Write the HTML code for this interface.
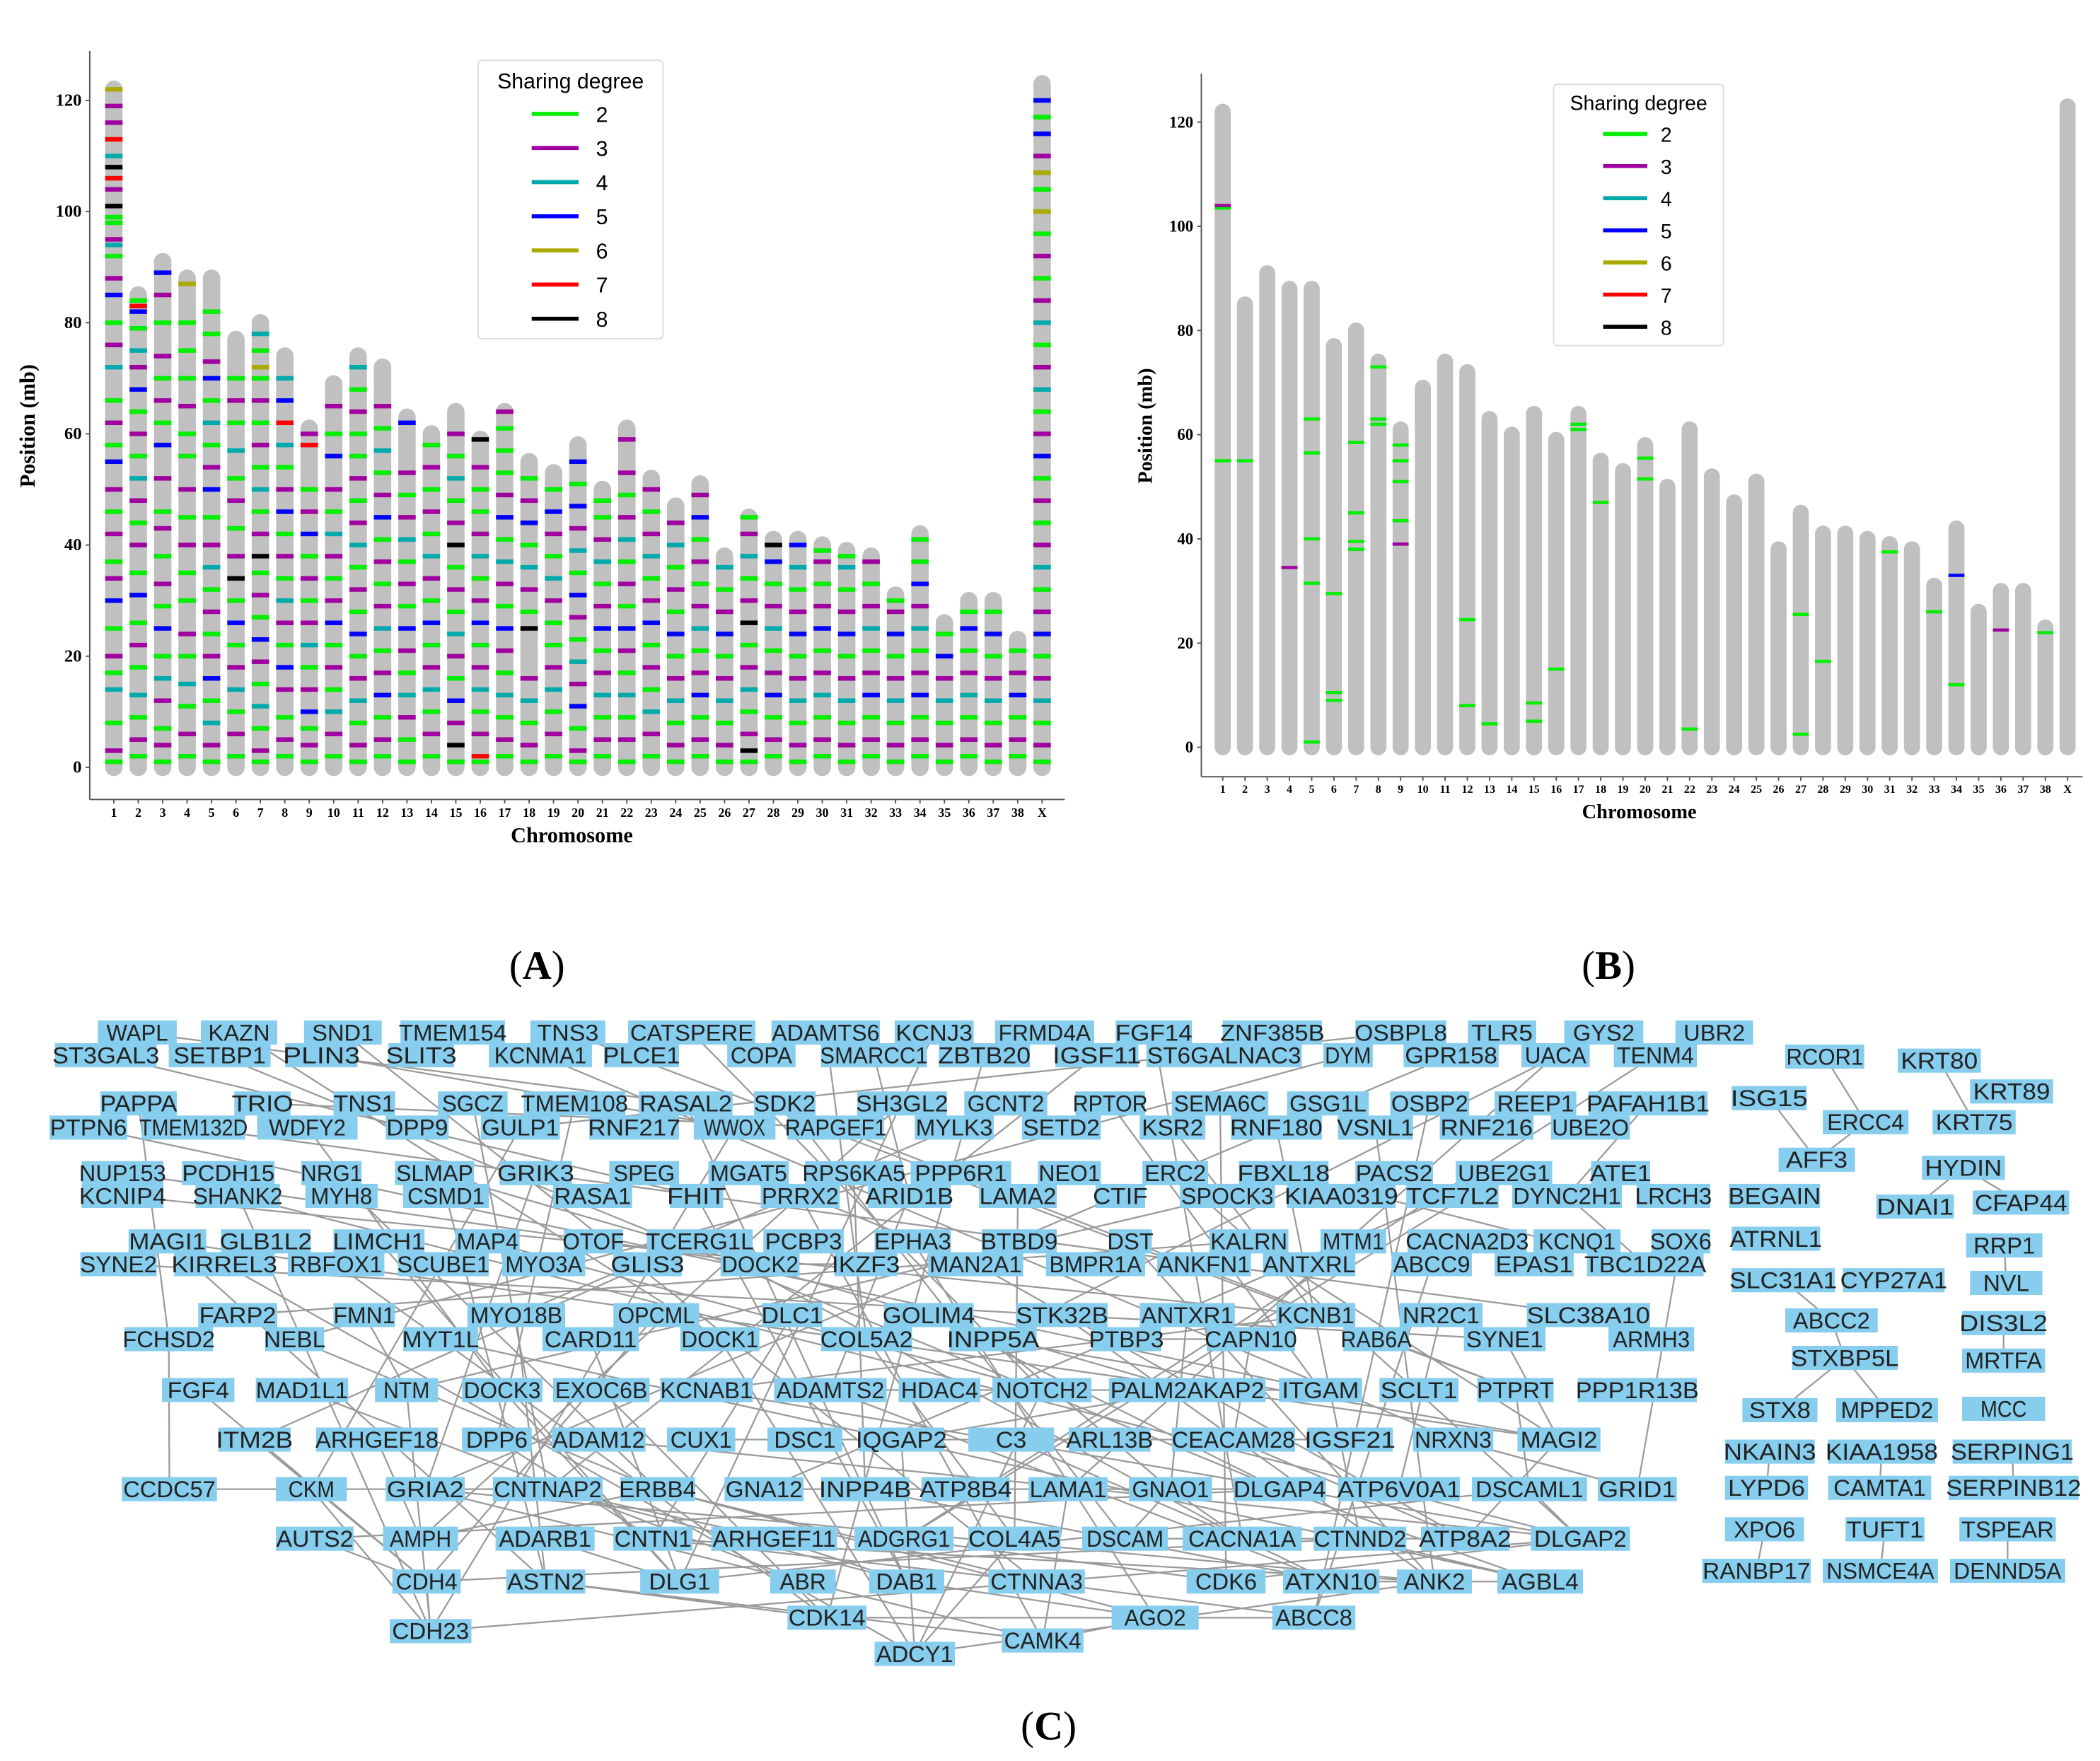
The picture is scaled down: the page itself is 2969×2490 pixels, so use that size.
<!DOCTYPE html>
<html><head><meta charset="utf-8"><style>
html,body{margin:0;padding:0;background:#fff}
svg{display:block}
.tk{font-family:"Liberation Serif",serif;font-weight:bold}
.nd{font-family:"Liberation Sans",sans-serif;font-size:17px;fill:#222}
</style></head><body>
<svg id="fig" width="2969" height="2490" viewBox="0 0 1568 1315" preserveAspectRatio="none" xmlns="http://www.w3.org/2000/svg">
<g id="gA"></g>
<g id="gB"></g>
<g id="gC"></g>
<text x="401" y="731" text-anchor="middle" font-family="Liberation Serif,serif" font-size="30">(<tspan font-weight="bold">A</tspan>)</text>
<text x="1201" y="731" text-anchor="middle" font-family="Liberation Serif,serif" font-size="30">(<tspan font-weight="bold">B</tspan>)</text>
<text x="783" y="1299" text-anchor="middle" font-family="Liberation Serif,serif" font-size="30">(<tspan font-weight="bold">C</tspan>)</text>
</svg>
<script>
const NS="http://www.w3.org/2000/svg";
const chromNames=["1","2","3","4","5","6","7","8","9","10","11","12","13","14","15","16","17","18","19","20","21","22","23","24","25","26","27","28","29","30","31","32","33","34","35","36","37","38","X"];
const chromLengths=[122,85,91,88,88,77,80,74,61,69,74,72,63,60,64,59,64,55,53,58,50,61,52,47,51,38,45,41,41,40,39,38,31,42,26,30,30,23,123];
const yTicks=[0,20,40,60,80,100,120];
const degrees=["2","3","4","5","6","7","8"];
const degreeColors=["#00ee00","#a000a0","#00aaaa","#0000ff","#aaaa00","#ff0000","#000000"];
// panel A marks: per chromosome "code+position" (g=2,m=3,c=4,b=5,o=6,r=7,k=8)
const marksA=[
"g1 m3 g8 c14 g17 m20 g25 b30 m34 g37 m42 g46 m50 b55 g58 m62 g66 c72 m76 g80 b85 m88 g92 c94 m95 g98 g99 k101 m104 r106 k108 c110 r113 m116 m119 o122",
"g2 m5 g9 c13 g18 m22 g26 b31 g35 m40 g44 m48 c52 g56 m60 g64 b68 m72 c75 g79 b82 r83 g84",
"g1 m4 g7 m12 c16 g20 b25 g29 m33 g38 m43 g46 m52 b58 g62 m66 g70 m74 g80 m85 b89",
"g2 m6 g11 c15 g20 m24 g30 g35 m40 g45 m50 g56 g60 m65 g70 g75 g80 o87",
"g1 m4 c8 g12 b16 m20 g24 m28 g32 c36 m40 g45 b50 m54 g58 c62 g66 b70 m73 g78 g82",
"g2 m6 g10 c14 m18 g22 b26 g30 k34 m38 g43 m48 g52 c57 g62 m66 g70",
"g1 m3 g7 c11 g15 m19 b23 g27 m31 g35 k38 m42 g46 c50 g54 m58 g62 m66 g70 o72 g75 c78",
"g2 m5 g9 m14 b18 g22 m26 c30 g34 m38 g42 b46 m50 g54 c58 r62 b66 c70",
"g1 m4 g7 b10 m14 g18 c22 m26 g30 m34 g38 b42 m46 g50 r58 m60",
"g2 m6 c10 g14 m18 g22 b26 m30 g34 m38 c42 g46 m50 b56 g60 m65",
"g1 m4 g8 c12 m16 g20 b24 g28 m32 g36 c40 m44 g48 m52 g56 g60 m64 g68 c72",
"g2 m5 g9 b13 m17 g21 c25 m29 g33 m37 g41 b45 m49 g53 c57 g61 m65",
"g1 g5 m9 c13 g17 m21 b25 g29 m33 g37 c41 m45 g49 m53 b62",
"g2 m6 g10 c14 m18 g22 b26 g30 m34 c38 g42 m46 g50 m54 g58",
"g1 k4 m8 b12 g16 m20 c24 g28 m32 g36 k40 m44 g48 c52 g56 m60",
"g1 r2 m6 g10 c14 m18 g22 b26 m30 g34 c38 m42 g46 g50 m54 k59",
"g2 m5 g9 c13 g17 m21 b25 g29 m33 c37 g41 b45 m49 g53 g57 g61 m64",
"g1 m4 g8 c12 m16 k25 g28 m32 c36 g40 b44 m48 g52",
"g2 m6 g10 c14 m18 g22 g26 m30 c34 g38 m42 b46 g50",
"g1 m3 g7 b11 m15 c19 g23 m27 b31 g35 c39 m43 b47 g51 b55",
"g2 m5 g9 c13 m17 g21 b25 m29 g33 c37 m41 g45 g48",
"g1 m5 g9 c13 g17 m21 b25 g29 m33 g37 c41 m45 g49 m53 m59",
"g2 m6 c10 g14 m18 g22 b26 m30 g34 c38 m42 g46 m50",
"g1 m4 g8 c12 m16 g20 b24 g28 m32 g36 c40 m44",
"g2 m5 g9 b13 m17 g21 c25 m29 g33 m37 g41 b45 m49",
"g1 m4 g8 c12 m16 g20 b24 m28 g32 c36",
"g1 k3 m6 g10 c14 m18 g22 k26 m30 g34 c38 m42 g45",
"g2 m5 g9 b13 m17 g21 c25 m29 g33 b37 k40",
"g1 m4 g8 c12 m16 g20 b24 m28 g32 c36 b40",
"g2 m5 g9 c13 m17 g21 b25 m29 g33 m37 g39",
"g1 m4 g8 c12 m16 g20 b24 m28 g32 c36 g38",
"g2 m5 g9 b13 m17 g21 c25 m29 g33 m37",
"g1 m4 g8 c12 m16 g20 b24 m28 g30",
"g2 m5 g9 b13 m17 g21 c25 m29 b33 g37 g41",
"g1 m4 g8 c12 m16 b20 g24",
"g2 m5 g9 c13 m17 g21 b25 g28",
"g1 m4 g8 c12 m16 g20 b24 g28",
"g2 m5 g9 b13 m17 g21",
"g1 m4 g8 c12 m16 g20 b24 m28 g32 c36 m40 g44 m48 g52 b56 m60 g64 c68 m72 g76 c80 m84 g88 m92 g96 o100 g104 o107 m110 b114 g117 b120"
];
// panel B marks
const marksBChrom=[0,0,0,1,3,4,4,4,4,4,5,5,5,6,6,6,6,7,7,7,8,8,8,8,8,11,11,12,14,14,15,16,16,17,19,19,21,26,26,27,30,32,33,33,35,37];
const marksBPos=[55,103.5,104,55,34.5,63,56.5,40,31.5,1,29.5,10.5,9,58.5,45,39.5,38,73,63,62,58,55,51,43.5,39,24.5,8,4.5,8.5,5,15,62,61,47,55.5,51.5,3.5,25.5,2.5,16.5,37.5,26,33,12,22.5,22];
const marksBDeg=[0,0,1,0,1,0,0,0,0,0,0,0,0,0,0,0,0,0,0,0,0,0,0,0,1,0,0,0,0,0,0,0,0,0,0,0,0,0,0,0,0,0,3,0,1,0];
const codeMap={g:0,m:1,c:2,b:3,o:4,r:5,k:6};

function mk(tag,attrs,parent){const e=document.createElementNS(NS,tag);for(const k in attrs)e.setAttribute(k,attrs[k]);parent.appendChild(e);return e;}

function drawChart(g,cfg){
  const xs=i=>cfg.x0+i*cfg.dx;
  const ys=v=>cfg.y0-v*cfg.py;
  const ya=mk("line",{x1:cfg.ax,y1:cfg.top,x2:cfg.ax,y2:cfg.bot,stroke:"#555","stroke-width":1},g);
  
  
  const xa=mk("line",{x1:cfg.ax,y1:cfg.bot,x2:cfg.right,y2:cfg.bot,stroke:"#555","stroke-width":1},g);
  
  
  yTicks.forEach(v=>{
    const t=mk("text",{x:cfg.ax-6,y:ys(v)+4,"text-anchor":"end","font-size":cfg.yfs,class:"tk"},g);
    t.textContent=v;
    
    
    mk("line",{x1:cfg.ax-3,y1:ys(v),x2:cfg.ax,y2:ys(v),stroke:"#555"},g);
  });
  chromLengths.forEach((L,i)=>{
    const r=mk("rect",{x:xs(i)-cfg.bw/2,y:ys(L)-cfg.bw/2,width:cfg.bw,height:(ys(0)-ys(L))+cfg.bw,rx:cfg.bw/2,fill:"#c0c0c0"},g);
    
    
    const t=mk("text",{x:xs(i),y:cfg.bot+cfg.xly,"text-anchor":"middle","font-size":cfg.xfs,class:"tk"},g);
    t.textContent=chromNames[i];
    
    
    mk("line",{x1:xs(i),y1:cfg.bot,x2:xs(i),y2:cfg.bot+3,stroke:"#555"},g);
  });
  cfg.marks.forEach(m=>{
    const r=mk("rect",{x:xs(m.c)-cfg.bw/2,y:ys(m.p)-cfg.mh/2,width:cfg.bw,height:cfg.mh,fill:degreeColors[m.d]},g);
    
    
  });
  const yl=mk("text",{x:0,y:0,transform:`translate(${cfg.ylx},${cfg.yly}) rotate(-90)`,"text-anchor":"middle","font-size":cfg.lfs,class:"tk"},g);
  yl.textContent="Position (mb)";
  
  
  const xl=mk("text",{x:cfg.xlx,y:cfg.xlyy,"text-anchor":"middle","font-size":cfg.lfs,class:"tk"},g);
  xl.textContent="Chromosome";
  
  
  const L=cfg.leg;
  const lg=mk("g",{},g);
  
  
  mk("rect",{x:L.x,y:L.y,width:L.w,height:L.h,fill:"#fff",stroke:"#ddd",rx:3},lg);
  const lt=mk("text",{x:L.x+L.w/2,y:L.ty,"text-anchor":"middle","font-size":L.fs,"font-family":"Liberation Sans,sans-serif"},lg);
  lt.textContent="Sharing degree";
  
  
  degrees.forEach((d,k)=>{
    const yy=L.iy+k*L.step;
    const ln=mk("line",{x1:L.lx1,y1:yy,x2:L.lx2,y2:yy,stroke:degreeColors[k],"stroke-width":3},lg);
    
    
    const tx=mk("text",{x:L.tx,y:yy+6,"font-size":L.fs,"font-family":"Liberation Sans,sans-serif"},lg);
    tx.textContent=d;
    
    
  });
}
const mA=[];
marksA.forEach((s,c)=>s.split(" ").forEach(tok=>mA.push({c:c,d:codeMap[tok[0]],p:parseFloat(tok.slice(1))})));
drawChart(document.getElementById("gA"),{x0:85,dx:18.24,y0:573,py:4.15,ax:67,top:38,bot:597,right:795,bw:13,mh:3.4,yfs:13,xfs:9.5,xly:13,marks:mA,
  ylx:26,yly:318,xlx:427,xlyy:629,lfs:16,
  leg:{x:357,y:45,w:138,h:208,ty:66,iy:85,step:25.5,lx1:397,lx2:432,tx:445,fs:16}});
const mB=marksBPos.map((p,k)=>({c:marksBChrom[k],p:p,d:marksBDeg[k]}));
drawChart(document.getElementById("gB"),{x0:913,dx:16.6,y0:558,py:3.89,ax:897,top:55,bot:580,right:1555,bw:12,mh:2.4,yfs:12,xfs:8.5,xly:12,marks:mB,
  ylx:860,yly:318,xlx:1224,xlyy:611,lfs:15,
  leg:{x:1160,y:63,w:127,h:195,ty:82,iy:100,step:24,lx1:1197,lx2:1230,tx:1240,fs:15}});

const nodes=[
["WAPL",70,135,771],["KAZN",147,210,771],["SND1",224,288,771],["TMEM154",296,380,771],["TNS3",393,455,771],["CATSPERE",466,567,771],["ADAMTS6",573,660,771],["KCNJ3",665,730,771],["FRMD4A",740,820,771],["FGF14",830,893,771],["ZNF385B",910,990,771],["OSBPL8",1009,1083,771],["TLR5",1093,1150,771],["GYS2",1165,1230,771],["UBR2",1248,1312,771],
["ST3GAL3",38,120,788],["SETBP1",123,205,788],["PLIN3",210,270,788],["SLIT3",287,342,788],["KCNMA1",362,445,788],["PLCE1",448,510,788],["COPA",540,597,788],["SMARCC1",610,695,788],["ZBTB20",698,772,788],["IGSF11",785,853,788],["ST6GALNAC3",853,975,788],["DYM",985,1028,788],["GPR158",1045,1122,788],["UACA",1133,1190,788],["TENM4",1202,1270,788],
["PAPPA",72,135,824],["TRIO",172,220,824],["TNS1",246,298,824],["SGCZ",324,382,824],["TMEM108",388,470,824],["RASAL2",474,550,824],["SDK2",560,612,824],["SH3GL2",637,710,824],["GCNT2",717,785,824],["RPTOR",800,858,824],["SEMA6C",872,950,824],["GSG1L",958,1025,824],["OSBP2",1035,1100,824],["REEP1",1113,1180,824],["PAFAH1B1",1183,1278,824],
["PTPN6",34,98,842],["TMEM132D",103,186,842],["WDFY2",189,270,842],["DPP9",285,338,842],["GULP1",356,421,842],["RNF217",437,510,842],["WWOX",515,582,842],["RAPGEF1",585,663,842],["MYLK3",680,745,842],["SETD2",760,825,842],["KSR2",848,903,842],["RNF180",916,990,842],["VSNL1",996,1058,842],["RNF216",1072,1148,842],["UBE2O",1155,1220,842],
["NUP153",58,125,876],["PCDH15",133,208,876],["NRG1",222,273,876],["SLMAP",292,357,876],["GRIK3",370,430,876],["SPEG",452,510,876],["MGAT5",526,592,876],["RPS6KA5",598,677,876],["PPP6R1",677,758,876],["NEO1",772,825,876],["ERC2",850,905,876],["FBXL18",922,995,876],["PACS2",1009,1073,876],["UBE2G1",1084,1162,876],["ATE1",1185,1235,876],
["KCNIP4",58,125,893],["SHANK2",143,212,893],["MYH8",225,285,893],["CSMD1",298,368,893],["RASA1",410,475,893],["FHIT",497,543,893],["PRRX2",565,630,893],["ARID1B",645,713,893],["LAMA2",728,792,893],["CTIF",815,858,893],["SPOCK3",878,955,893],["KIAA0319",958,1045,893],["TCF7L2",1047,1122,893],["DYNC2H1",1126,1214,893],["LRCH3",1219,1280,893],
["MAGI1",93,157,927],["GLB1L2",162,235,927],["LIMCH1",246,320,927],["MAP4",337,391,927],["OTOF",418,468,927],["TCERG1L",480,565,927],["PCBP3",567,633,927],["EPHA3",650,713,927],["BTBD9",730,792,927],["DST",825,863,927],["KALRN",900,965,927],["MTM1",983,1038,927],["CACNA2D3",1048,1143,927],["KCNQ1",1142,1213,927],["SOX6",1230,1280,927],
["SYNE2",57,120,944],["KIRREL3",127,208,944],["RBFOX1",212,290,944],["SCUBE1",294,368,944],["MYO3A",372,440,944],["GLIS3",455,512,944],["DOCK2",535,600,944],["IKZF3",620,673,944],["MAN2A1",690,767,944],["BMPR1A",778,858,944],["ANKFN1",861,937,944],["ANTXRL",940,1015,944],["ABCC9",1036,1102,944],["EPAS1",1113,1178,944],["TBC1D22A",1182,1275,944],
["FARP2",145,210,982],["FMN1",246,298,982],["MYO18B",346,425,982],["OPCML",455,525,982],["DLC1",566,617,982],["GOLIM4",657,730,982],["STK32B",756,830,982],["ANTXR1",848,925,982],["KCNB1",950,1015,982],["NR2C1",1042,1110,982],["SLC38A10",1137,1235,982],
["FCHSD2",90,162,1000],["NEBL",195,245,1000],["MYT1L",298,360,1000],["CARD11",402,480,1000],["DOCK1",505,570,1000],["COL5A2",610,684,1000],["INPP5A",706,777,1000],["PTBP3",812,870,1000],["CAPN10",898,970,1000],["RAB6A",1000,1055,1000],["SYNE1",1090,1157,1000],["ARMH3",1198,1268,1000],
["FGF4",118,178,1038],["MAD1L1",188,263,1038],["NTM",277,330,1038],["DOCK3",342,408,1038],["EXOC6B",410,488,1038],["KCNAB1",490,565,1038],["ADAMTS2",575,665,1038],["HDAC4",668,735,1038],["NOTCH2",738,818,1038],["PALM2AKAP2",825,948,1038],["ITGAM",952,1020,1038],["SCLT1",1027,1092,1038],["PTPRT",1100,1163,1038],["PPP1R13B",1175,1270,1038],
["ITM2B",160,220,1075],["ARHGEF18",233,330,1075],["DPP6",342,400,1075],["ADAM12",409,485,1075],["CUX1",495,552,1075],["DSC1",570,632,1075],["IQGAP2",638,708,1075],["C3",720,790,1075],["ARL13B",795,862,1075],["CEACAM28",872,970,1075],["IGSF21",973,1043,1075],["NRXN3",1052,1118,1075],["MAGI2",1130,1198,1075],
["CCDC57",88,165,1112],["CKM",203,262,1112],["GRIA2",285,350,1112],["CNTNAP2",365,453,1112],["ERBB4",460,522,1112],["GNA12",538,603,1112],["INPP4B",610,682,1112],["ATP8B4",685,757,1112],["LAMA1",765,830,1112],["GNAO1",840,908,1112],["DLGAP4",918,993,1112],["ATP6V0A1",996,1093,1112],["DSCAML1",1096,1188,1112],["GRID1",1190,1255,1112],
["AUTS2",203,267,1149],["AMPH",283,345,1149],["ADARB1",367,447,1149],["CNTN1",455,520,1149],["ARHGEF11",528,628,1149],["ADGRG1",635,715,1149],["COL4A5",720,795,1149],["DSCAM",805,875,1149],["CACNA1A",880,975,1149],["CTNND2",978,1053,1149],["ATP8A2",1058,1130,1149],["DLGAP2",1140,1220,1149],
["CDH4",290,347,1181],["ASTN2",375,440,1181],["DLG1",475,540,1181],["ABR",572,627,1181],["DAB1",646,708,1181],["CTNNA3",735,813,1181],["CDK6",883,948,1181],["ATXN10",955,1033,1181],["ANK2",1040,1102,1181],["AGBL4",1115,1185,1181],
["CDK14",585,650,1208],["AGO2",827,898,1208],["ABCC8",947,1015,1208],["CDH23",288,355,1218],["CAMK4",745,812,1225],["ADCY1",650,716,1235],
["RCOR1",1330,1395,789],["KRT80",1414,1482,792],["KRT89",1468,1536,815],["ISG15",1290,1352,820],["ERCC4",1358,1428,838],["KRT75",1440,1508,838],["AFF3",1325,1388,866],["HYDIN",1432,1500,872],["BEGAIN",1288,1362,893],["DNAI1",1398,1462,901],["CFAP44",1470,1548,898],["ATRNL1",1290,1362,925],["RRP1",1465,1528,930],["SLC31A1",1290,1373,956],["CYP27A1",1373,1455,956],["NVL",1468,1528,958],["ABCC2",1330,1405,986],["DIS3L2",1462,1530,988],["STXBP5L",1335,1420,1014],["MRTFA",1462,1530,1016],["STX8",1298,1360,1053],["MPPED2",1368,1450,1053],["MCC",1462,1530,1052],["NKAIN3",1285,1358,1084],["KIAA1958",1362,1448,1084],["SERPING1",1455,1550,1084],["LYPD6",1285,1353,1111],["CAMTA1",1362,1445,1111],["SERPINB12",1452,1555,1111],["XPO6",1285,1350,1142],["TUFT1",1375,1440,1142],["TSPEAR",1460,1538,1142],["RANBP17",1268,1355,1173],["NSMCE4A",1358,1450,1173],["DENND5A",1453,1545,1173]
];
const edgeFrom=["RCOR1","KRT80","ISG15","ERCC4","HYDIN","HYDIN","RRP1","ABCC2","ABCC2","DIS3L2","STXBP5L","STXBP5L","NKAIN3","SERPING1","XPO6","TUFT1","TSPEAR","KIAA1958",
"WAPL","KAZN","SND1","TNS3","CATSPERE","ADAMTS6","KCNJ3","FGF14","OSBPL8","GYS2","ST3GAL3","SETBP1","PLIN3","KCNMA1","SMARCC1","ZBTB20","IGSF11","DYM","GPR158","UACA","TENM4","PAPPA","TRIO","SGCZ","TMEM108","RASAL2","SDK2","SH3GL2","RPTOR","SEMA6C","OSBP2","PAFAH1B1","PTPN6","TMEM132D","WDFY2","GULP1","WWOX","RAPGEF1","MYLK3","KSR2","RNF180","VSNL1","NUP153","PCDH15","NRG1","SLMAP","GRIK3","MGAT5","RPS6KA5","ERC2","FBXL18","UBE2G1","KCNIP4","SHANK2","CSMD1","FHIT","PRRX2","ARID1B","LAMA2","SPOCK3","TCF7L2","DYNC2H1","MAGI1","LIMCH1","MAP4","TCERG1L","EPHA3","DST","KALRN","CACNA2D3","SOX6","SYNE2","KIRREL3","RBFOX1","GLIS3","DOCK2","MAN2A1","ABCC9","FARP2","FMN1","MYO18B","OPCML","DLC1","GOLIM4","STK32B","ANTXR1","KCNB1","NR2C1","FCHSD2","NEBL","MYT1L","CARD11","DOCK1","COL5A2","INPP5A","PTBP3","CAPN10","SYNE1","FGF4","MAD1L1","NTM","DOCK3","EXOC6B","KCNAB1","ADAMTS2","HDAC4","NOTCH2","PALM2AKAP2","ITGAM","PTPRT","ITM2B","ARHGEF18","DPP6","ADAM12","CUX1","IQGAP2","C3","CEACAM28","NRXN3","MAGI2","CCDC57","CKM","GRIA2","CNTNAP2","ERBB4","GNA12","INPP4B","LAMA1","GNAO1","DLGAP4","DSCAML1","AUTS2","AMPH","ADARB1","CNTN1","ARHGEF11","ADGRG1","COL4A5","DSCAM","CACNA1A","CTNND2","CDH4","ASTN2","DLG1","ABR","DAB1","CTNNA3","CDK6","ATXN10","ANK2","CDK14","AGO2","CAMK4","CDH23","GRIA2","ERBB4","DLG1","MAGI2","NRXN3","CACNA1A","DLGAP2","CTNNA3","CNTNAP2","AUTS2","ASTN2","CDH4"];
const edgeTo=["ERCC4","KRT75","AFF3","AFF3","DNAI1","CFAP44","NVL","SLC31A1","STXBP5L","MRTFA","STX8","MPPED2","LYPD6","SERPINB12","RANBP17","NSMCE4A","DENND5A","CAMTA1",
"RASAL2","DOCK1","CTNNA3","PTPRT","NOTCH2","COL5A2","DLG1","CACNA1A","GULP1","INPP5A","FHIT","DLGAP4","WWOX","NRXN3","ARID1B","CDK14","CNTNAP2","NEBL","GRIA2","LAMA1","ADGRG1","FCHSD2","RAPGEF1","CNTNAP2","DPP6","DAB1","DSCAM","AMPH","ITGAM","CDK6","ABCC8","DYNC2H1","ITGAM","SLC38A10","DOCK3","CKM","CDH23","PTPRT","MYO18B","KCNB1","CTNND2","ANK2","DOCK2","CDH23","ERBB4","PALM2AKAP2","GRIA2","MAN2A1","INPP4B","DLGAP2","TBC1D22A","ADGRG1","KCNB1","DLGAP2","ASTN2","DAB1","CAMK4","ADAMTS2","COL4A5","NTM","GNA12","TBC1D22A","MAGI2","DLG1","NOTCH2","CACNA1A","AGO2","ANK2","MAGI2","ABCC9","GRID1","SYNE1","ADCY1","CDK14","ITM2B","IKZF3","ATP8A2","ABCC8","KALRN","NTM","ASTN2","CDH4","CNTN1","DLGAP4","ANK2","GNAO1","RAB6A","ATP6V0A1","CCDC57","ERBB4","AGBL4","DLG1","ADCY1","COL4A5","GNAO1","CAPN10","CEACAM28","MAGI2","CDH4","ABR","CDH23","DLG1","CDK14","KCNB1","ATXN10","HDAC4","ADCY1","IQGAP2","ADAMTS2","DSCAML1","CDH4","AMPH","CNTN1","DLGAP2","IGSF21","ADCY1","CACNA1A","ATP8A2","GRID1","ATP8A2","CNTNAP2","CDH23","ABR","DAB1","AGO2","DLGAP4","ATXN10","CAMK4","DSCAM","AGBL4","DLGAP2","CDH4","ERBB4","DLG1","ANK2","DAB1","CDK6","ADCY1","ATP8A2","ATXN10","AGBL4","CDH23","CDK14","DLG1","CAMK4","AGO2","ABCC8","DLGAP2","AGBL4","ADCY1","ABCC8","CAMK4","ASTN2","DLGAP2","ANK2","CTNNA3","DSCAML1","INPP5A","GRID1","GNAO1","KCNAB1","CNTN1","ARHGEF11","DLGAP4","MAGI1","CTNND2","NRXN3","SHANK2"];

const gC=document.getElementById("gC");
const eg=mk("g",{},gC);
const ng=mk("g",{},gC);
const pos={};
nodes.forEach(n=>{pos[n[0]]=[(n[1]+n[2])/2,n[3]];});
edgeFrom.forEach((a,k)=>{
  const b=edgeTo[k];
  if(!pos[a]||!pos[b])return;
  const l=mk("line",{x1:pos[a][0],y1:pos[a][1],x2:pos[b][0],y2:pos[b][1],stroke:"#9a9a9a","stroke-width":1.2},eg);
  
  
});
nodes.forEach(n=>{
  const g=mk("g",{},ng);
  
  
  mk("rect",{x:n[1]+3,y:n[3]-9,width:n[2]-n[1]-6,height:18,fill:"#87cdee"},g);
  const t=mk("text",{x:(n[1]+n[2])/2,y:n[3]+6,"text-anchor":"middle",class:"nd",textLength:Math.min(n[2]-n[1]-2,n[0].length*11.5),lengthAdjust:"spacingAndGlyphs"},g);
  t.textContent=n[0];
});
</script>
</body></html>
